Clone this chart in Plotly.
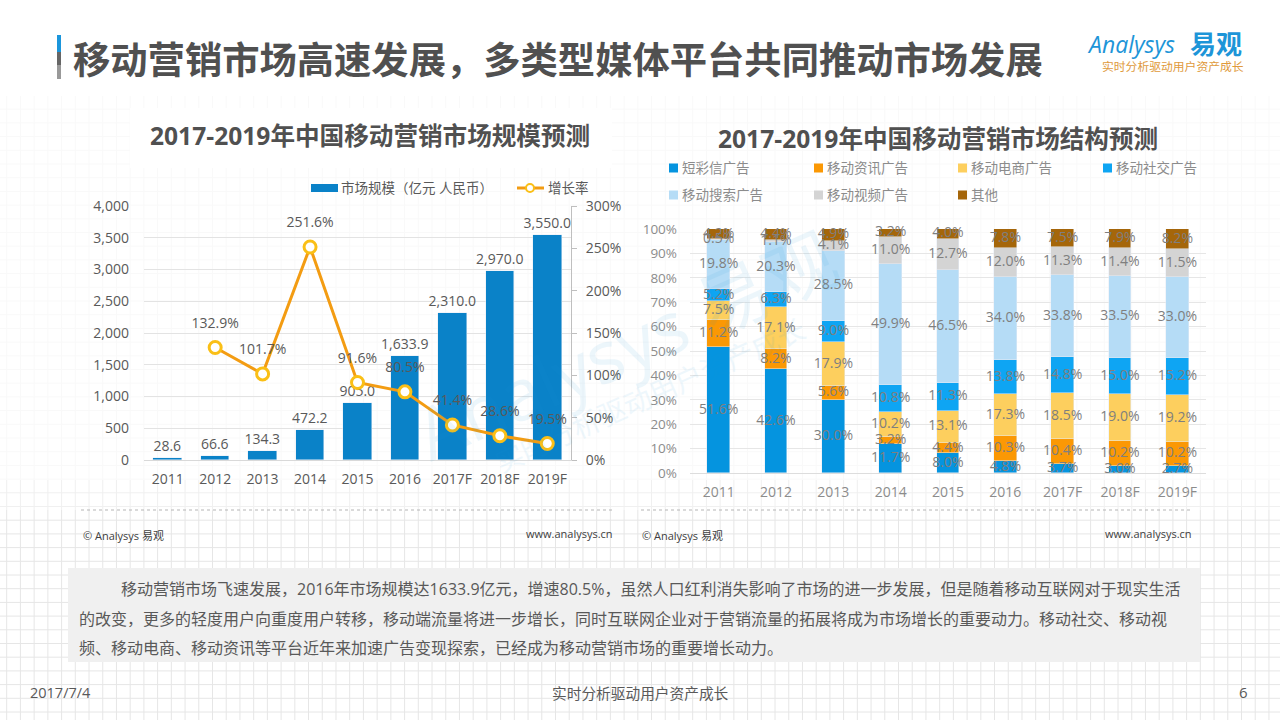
import plotly.graph_objects as go

# left chart
years = ["2011", "2012", "2013", "2014", "2015", "2016", "2017F", "2018F", "2019F"]
market_size = [28.6, 66.6, 134.3, 472.2, 905.0, 1633.9, 2310.0, 2970.0, 3550.0]
growth_rate = [None, 132.9, 101.7, 251.6, 91.6, 80.5, 41.4, 28.6, 19.5]

# right chart, shares in %
sms_ads = [51.6, 42.6, 30.0, 11.7, 8.0, 4.8, 3.7, 3.0, 2.7]
news_ads = [11.2, 8.2, 5.6, 3.2, 4.4, 10.3, 10.4, 10.2, 10.2]
ecommerce_ads = [7.5, 17.1, 17.9, 10.2, 13.1, 17.3, 18.5, 19.0, 19.2]
social_ads = [5.2, 6.3, 9.0, 10.8, 11.3, 13.8, 14.8, 15.0, 15.2]
search_ads = [19.8, 20.3, 28.5, 49.9, 46.5, 34.0, 33.8, 33.5, 33.0]
video_ads = [0.5, 1.1, 4.1, 11.0, 12.7, 12.0, 11.3, 11.4, 11.5]
other_ads = [4.2, 4.4, 4.9, 3.2, 4.0, 7.8, 7.5, 7.9, 8.2]

share_names = ["短彩信广告", "移动资讯广告", "移动电商广告", "移动社交广告", "移动搜索广告", "移动视频广告", "其他"]
share_values = [sms_ads, news_ads, ecommerce_ads, social_ads, search_ads, video_ads, other_ads]
share_colors = ["#0594df", "#fb9804", "#fdcf5e", "#0ea5f3", "#b5dcf6", "#d4d4d4", "#a5660a"]

title = "移动营销市场高速发展，多类型媒体平台共同推动市场发展"
body_lines = [
    "移动营销市场飞速发展，2016年市场规模达1633.9亿元，增速80.5%，虽然人口红利消失影响了市场的进一步发展，但是随着移动互联网对于现实生活",
    "的改变，更多的轻度用户向重度用户转移，移动端流量将进一步增长，同时互联网企业对于营销流量的拓展将成为市场增长的重要动力。移动社交、移动视",
    "频、移动电商、移动资讯等平台近年来加速广告变现探索，已经成为移动营销市场的重要增长动力。",
]

FONT = "Open Sans, Noto Sans CJK SC, sans-serif"
GREY = "#595959"
W, H = 1280, 720


def xd(px):
    return px / W


def yd(px):
    return 1 - px / H


shapes = []
annotations = []


def text(x, y, s, size=14, color=GREY, anchor="left", bold=False, **kw):
    if bold:
        s = f"<b>{s}</b>"
    annotations.append(dict(x=x, y=y, xref="paper", yref="paper", text=s, showarrow=False,
                            xanchor=anchor, yanchor="middle", font=dict(size=size, color=color, family=FONT),
                            borderpad=0, **kw))


def rect(x0, y0, x1, y1, color, opacity=1):
    shapes.append(dict(type="rect", xref="paper", yref="paper", x0=xd(x0), x1=xd(x1), y0=yd(y0), y1=yd(y1),
                       fillcolor=color, opacity=opacity, line_width=0, layer="below"))


# page background: squared paper, faded behind the charts
for i in range(0, 94):
    px = 6.7 + i * 13.72
    shapes.append(dict(type="line", xref="paper", yref="paper", x0=xd(px), x1=xd(px), y0=0, y1=1,
                       line=dict(color="#e6e6e6", width=1), layer="below"))
for i in range(0, 53):
    py = 13.3 + i * 13.7
    shapes.append(dict(type="line", xref="paper", yref="paper", x0=0, x1=1, y0=yd(py), y1=yd(py),
                       line=dict(color="#e6e6e6", width=1), layer="below"))
rect(0, 0, 1280, 96, "#ffffff")
rect(0, 96, 1280, 480, "#ffffff", 0.75)
rect(0, 480, 1280, 510, "#ffffff", 0.4)
rect(130, 108, 612, 168, "#ffffff", 0.9)
rect(68, 568, 1200, 662, "#f0f0f0")

# heading with its small three-tone bar
rect(57, 35, 61, 52, "#1b96dc")
rect(57, 52, 61, 65, "#666666")
rect(57, 65, 61, 79, "#999999")
text(xd(72), yd(59), title, size=37.3, color="#505050", bold=True)

# logo
text(xd(1086), yd(44), "<i>Analysys</i>", size=23, color="#1d95d8")
text(xd(1189), yd(44), "易观", size=26, color="#1d95d8", bold=True)
text(xd(1101), yd(66), "实时分析驱动用户资产成长", size=11.8, color="#e09a3c")

# chart titles
text(xd(370), yd(135), "2017-2019年中国移动营销市场规模预测", size=24.6, color="#505050", anchor="center", bold=True)
text(xd(938), yd(138), "2017-2019年中国移动营销市场结构预测", size=24.6, color="#505050", anchor="center", bold=True)

# left legend
rect(311, 184, 338, 192, "#0a82c8")
text(xd(340), yd(188), "市场规模（亿元 人民币）", size=13.5)
shapes.append(dict(type="line", xref="paper", yref="paper", x0=xd(517), x1=xd(544), y0=yd(188), y1=yd(188),
                   line=dict(color="#f39c12", width=3)))
shapes.append(dict(type="circle", xref="paper", yref="paper", x0=xd(526), x1=xd(534), y0=yd(192), y1=yd(184),
                   fillcolor="#ffffff", line=dict(color="#fabf16", width=2)))
text(xd(547), yd(188), "增长率", size=13.5)

# right legend
legend_x = [669, 814, 958, 1103]
for i, name in enumerate(share_names):
    lx = legend_x[i % 4]
    ly = 168 + 27 * (i // 4)
    rect(lx, ly - 4.5, lx + 9, ly + 4.5, share_colors[i])
    text(xd(lx + 12), yd(ly), name, size=13.5, color="#8c8c8c")

# source lines under the charts
for x0, x1 in [(81, 615), (641, 1193)]:
    shapes.append(dict(type="line", xref="paper", yref="paper", x0=xd(x0), x1=xd(x1), y0=yd(510), y1=yd(510),
                       line=dict(color="#b5b5b5", width=1, dash="dot")))
text(xd(82), yd(535), "© Analysys 易观", size=11, color="#404040")
text(xd(614), yd(533), "www.analysys.cn", size=11, color="#404040", anchor="right")
text(xd(641), yd(535), "© Analysys 易观", size=11, color="#404040")
text(xd(1193), yd(533), "www.analysys.cn", size=11, color="#404040", anchor="right")

# paragraph
text(xd(120), yd(589), body_lines[0], size=16)
text(xd(78), yd(619), body_lines[1], size=16)
text(xd(78), yd(648), body_lines[2], size=16)

# footer
text(xd(29), yd(692), "2017/7/4", size=14.5)
text(xd(640), yd(693), "实时分析驱动用户资产成长", size=14.7, anchor="center")
text(xd(1243), yd(692), "6", size=15, anchor="center")

# faint watermark
text(xd(625), yd(345), "Analysys 易观", size=72, color="#1d95d8", anchor="center", textangle=-24, opacity=0.08)
text(xd(650), yd(395), "实时分析驱动用户资产成长", size=28, color="#1d95d8", anchor="center", textangle=-24, opacity=0.07)

fig = go.Figure()

fig.add_trace(go.Bar(x=years, y=market_size, marker_color="#0a82c8", width=0.6, showlegend=False,
                     text=[f"{v:,.1f}" for v in market_size], textposition="outside", cliponaxis=False,
                     constraintext="none", textangle=0,
                     textfont=dict(size=14, color=GREY, family=FONT), xaxis="x", yaxis="y"))
fig.add_trace(go.Scatter(x=years, y=growth_rate, mode="lines+markers", showlegend=False,
                         line=dict(color="#f39c12", width=3), cliponaxis=False,
                         marker=dict(size=12, color="#ffffff", line=dict(color="#fabf16", width=3)),
                         xaxis="x", yaxis="y2"))
# a wide see-through marker holds the labels clear of the line markers
fig.add_trace(go.Scatter(x=years, y=growth_rate, mode="markers+text", showlegend=False, cliponaxis=False,
                         marker=dict(size=24, color="rgba(0,0,0,0)"),
                         text=[None if r is None else f"{r}%" for r in growth_rate],
                         textposition="top center", textfont=dict(size=14, color=GREY, family=FONT),
                         xaxis="x", yaxis="y2"))

for name, values, color in zip(share_names, share_values, share_colors):
    fig.add_trace(go.Bar(x=years, y=values, name=name, marker_color=color, width=0.4, showlegend=False,
                         cliponaxis=False, xaxis="x3", yaxis="y3"))

# share labels go in a text trace so that no later segment paints over them
running = [0.0] * len(years)
for values in share_values:
    mids = [base + v / 2 for base, v in zip(running, values)]
    running = [base + v for base, v in zip(running, values)]
    fig.add_trace(go.Scatter(x=years, y=mids, mode="text", showlegend=False, cliponaxis=False,
                             text=[f"{v:.1f}%" for v in values], textposition="middle center",
                             textfont=dict(size=14, color="#7f7f7f", family=FONT), xaxis="x3", yaxis="y3"))

fig.update_layout(
    width=W, height=H, autosize=False, margin=dict(l=0, r=0, t=0, b=0, autoexpand=False),
    paper_bgcolor="#ffffff", plot_bgcolor="rgba(0,0,0,0)", barmode="stack", bargap=0,
    font=dict(family=FONT, color=GREY), shapes=shapes, annotations=annotations, showlegend=False,
    xaxis=dict(domain=[xd(144), xd(571)], anchor="y", type="category", range=[-0.5, 8.5], showgrid=False, ticks="",
               linecolor="#d9d9d9", showline=True, ticklabelstandoff=6, tickfont=dict(size=14, color=GREY)),
    yaxis=dict(domain=[yd(460), yd(206)], range=[0, 4000], dtick=500, tickformat=",d", gridcolor="#e3e3e3",
               zeroline=False, tickfont=dict(size=14, color=GREY), ticklabelstandoff=14),
    yaxis2=dict(domain=[yd(460), yd(206)], overlaying="y", side="right", anchor="x", range=[0, 300], dtick=50,
                ticksuffix="%", showgrid=False, zeroline=False, showline=True, linecolor="#bfbfbf",
                ticks="outside", ticklen=5, tickcolor="#bfbfbf", ticklabelstandoff=6,
                tickfont=dict(size=14, color=GREY)),
    xaxis3=dict(domain=[xd(690), xd(1206)], anchor="y3", type="category", range=[-0.5, 8.5], showgrid=False, ticks="",
                linecolor="#dddddd", showline=True, ticklabelstandoff=6, tickfont=dict(size=14, color="#8c8c8c")),
    yaxis3=dict(domain=[yd(473), yd(229)], anchor="x3", range=[0, 100], dtick=10, ticksuffix="%",
                gridcolor="#e6e6e6", zeroline=False, ticklabelstandoff=12, tickfont=dict(size=13.5, color="#8c8c8c")),
)

fig.write_html("out.html", config={"displayModeBar": False}, post_script="document.body.style.margin = '0';")
